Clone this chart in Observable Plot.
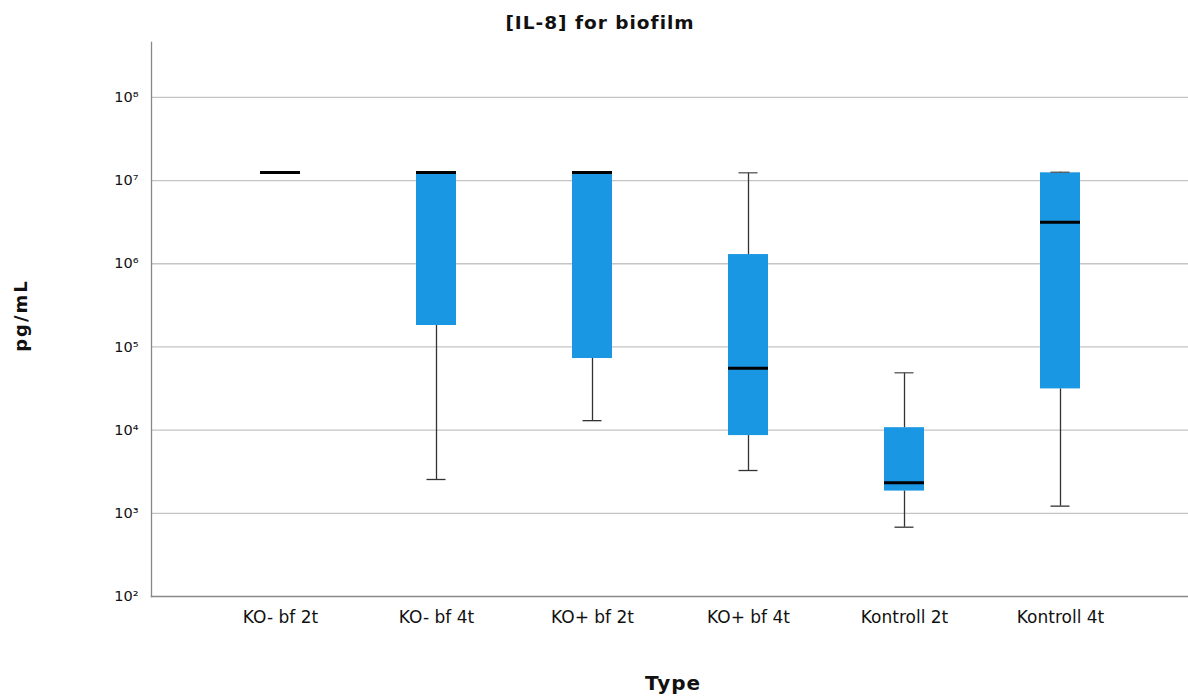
<!DOCTYPE html>
<html><head><meta charset="utf-8">
<script src="https://cdn.jsdelivr.net/npm/d3@7"></script>
<script src="https://cdn.jsdelivr.net/npm/@observablehq/plot@0.6"></script>
<style>
body{margin:0;background:#fff;width:1188px;height:700px;overflow:hidden;font-family:"DejaVu Sans",sans-serif}
#title{height:40px;line-height:46px;text-align:center;font-weight:bold;font-size:18.5px;letter-spacing:1px;color:#111;padding-left:12px;box-sizing:border-box}
</style>
</head><body>
<div id="title">[IL-8] for biofilm</div>
<div id="chart"></div>
<script>
const categories = ["KO- bf 2t", "KO- bf 4t", "KO+ bf 2t", "KO+ bf 4t", "Kontroll 2t", "Kontroll 4t"];
const whiskerLow  = [1.25e7, 2.55e3, 1.30e4, 3.27e3, 681, 1.22e3];
const q1          = [1.25e7, 1.81e5, 7.26e4, 8.6e3, 1.85e3, 3.13e4];
const median      = [1.25e7, 1.25e7, 1.25e7, 5.55e4, 2.33e3, 3.15e6];
const q3          = [1.25e7, 1.25e7, 1.25e7, 1.29e6, 1.07e4, 1.24e7];
const whiskerHigh = [1.25e7, 1.25e7, 1.25e7, 1.24e7, 4.89e4, 1.26e7];
const yTicks = [1e2, 1e3, 1e4, 1e5, 1e6, 1e7, 1e8];
const gridTicks = [1e3, 1e4, 1e5, 1e6, 1e7, 1e8];

const sup = {"0":"⁰","1":"¹","2":"²","3":"³","4":"⁴","5":"⁵","6":"⁶","7":"⁷","8":"⁸","9":"⁹"};
const fmt = d => "10" + String(Math.round(Math.log10(d))).split("").map(c => sup[c]).join("");

const data = categories.map((c, i) => ({
  type: c, lo: whiskerLow[i], q1: q1[i], med: median[i], q3: q3[i], hi: whiskerHigh[i]
}));
const boxes = data.filter(d => d.q3 > d.q1);
const capsLo = data.filter(d => d.lo < d.q1);
const capsHi = data.filter(d => d.hi !== d.med);

const chart = Plot.plot({
  width: 1188,
  height: 660,
  marginTop: 2,
  marginLeft: 151,
  marginRight: 0,
  marginBottom: 104,
  style: {fontFamily: "'DejaVu Sans', sans-serif", background: "#fff", color: "#111"},
  x: {domain: categories, type: "band", paddingInner: 0.7436, paddingOuter: 0.695, axis: null},
  y: {type: "log", domain: [1e2, 4.57e8], axis: null},
  marks: [
    Plot.ruleY(gridTicks, {stroke: "#c4c4c4", strokeWidth: 1.3}),
    Plot.barY(boxes, {x: "type", y1: "q1", y2: "q3", fill: "#1997e3"}),
    Plot.ruleX(data, {x: "type", y1: "lo", y2: "q1", stroke: "#333", strokeWidth: 1.3}),
    Plot.ruleX(data, {x: "type", y1: "q3", y2: "hi", stroke: "#333", strokeWidth: 1.3}),
    Plot.tickY(capsLo, {x: "type", y: "lo", stroke: "#333", strokeWidth: 1.3, insetLeft: 10.5, insetRight: 10.5}),
    Plot.tickY(capsHi, {x: "type", y: "hi", stroke: "#555", strokeWidth: 1.3, insetLeft: 10.5, insetRight: 10.5}),
    Plot.tickY(data, {x: "type", y: "med", stroke: "#000", strokeWidth: 3}),
    Plot.frame({anchor: "left", stroke: "#888", strokeWidth: 1.3}),
    Plot.frame({anchor: "bottom", stroke: "#888", strokeWidth: 1.3}),
    Plot.axisY(yTicks, {tickFormat: fmt, tickSize: 0, tickPadding: 13, fontSize: 14.5, label: null}),
    Plot.axisX({tickSize: 0, tickPadding: 14, fontSize: 17, label: null}),
    Plot.text(["pg/mL"], {frameAnchor: "left", textAnchor: "middle", rotate: -90, dx: -130, dy: -4, fontSize: 18, fontWeight: "bold", fill: "#111"}),
    Plot.text(["Type"], {frameAnchor: "bottom", textAnchor: "middle", dy: 93, dx: 3, fontSize: 20, fontWeight: "bold", fill: "#111"})
  ]
});
document.getElementById("chart").appendChild(chart);
document.querySelectorAll("#chart svg text").forEach(t => {
  if (t.textContent === "pg/mL") t.setAttribute("letter-spacing", "2");
  if (t.textContent === "Type") t.setAttribute("letter-spacing", "1");
});
</script>
</body></html>
